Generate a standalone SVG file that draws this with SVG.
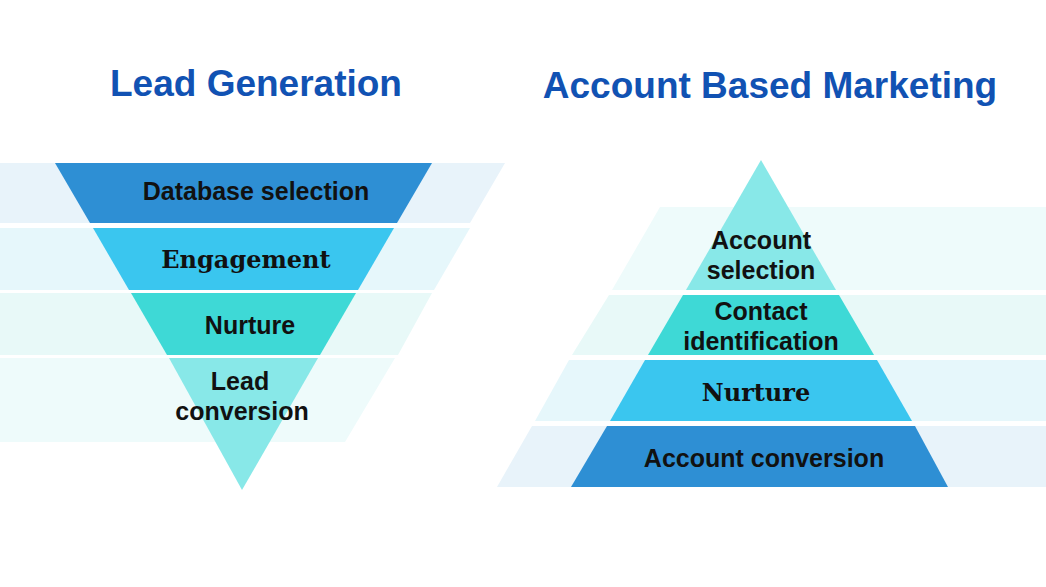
<svg xmlns="http://www.w3.org/2000/svg" width="1046" height="587" viewBox="0 0 1046 587">
<style>
.t{font-family:"Liberation Sans",Arial,sans-serif;font-weight:bold;fill:#1152b3;font-size:37px;text-anchor:middle}
.l{font-family:"Liberation Sans",Arial,sans-serif;font-weight:bold;fill:#111;font-size:25px;text-anchor:middle}
.s{font-family:"DejaVu Serif","Liberation Serif",serif;font-weight:bold;fill:#111;font-size:24px;text-anchor:middle}
</style>
<rect width="1046" height="587" fill="#fff"/>
<text class="t" x="256" y="96">Lead Generation</text>
<text class="t" x="770" y="98">Account Based Marketing</text>
<g id="lead-bg">
<polygon points="0,163 505,163 470,223 0,223" fill="#e8f3fa"/>
<polygon points="0,228 470,228 434,290 0,290" fill="#e6f7fb"/>
<polygon points="0,293 432,293 398,355 0,355" fill="#e8f9f8"/>
<polygon points="0,358 395,358 345,442 0,442" fill="#eefbfb"/>
</g>
<g id="lead-1"><polygon points="55,163 432,163 397,223 90,223" fill="#2e8fd4"/><text class="l" x="256" y="200">Database selection</text></g>
<g id="lead-2"><polygon points="93,228 394,228 358,290 129,290" fill="#3ac6ef"/><text class="s" x="246" y="268">Engagement</text></g>
<g id="lead-3"><polygon points="131,293 356,293 320,355 167,355" fill="#3ed9d6"/><text class="l" x="250" y="334">Nurture</text></g>
<g id="lead-4"><polygon points="169,358 318,358 242,490" fill="#88e8e8"/><text class="l" x="240" y="390">Lead</text><text class="l" x="242" y="420">conversion</text></g>
<g id="abm-bg">
<polygon points="660,207 1046,207 1046,290 612,290" fill="#eefbfb"/>
<polygon points="609,295 1046,295 1046,355 572,355" fill="#e8f9f8"/>
<polygon points="569,360 1046,360 1046,421 535,421" fill="#e6f7fb"/>
<polygon points="532,426 1046,426 1046,487 497,487" fill="#e8f3fa"/>
</g>
<g id="abm-1"><polygon points="761,160 836,290 686,290" fill="#88e8e8"/><text class="l" x="761" y="249">Account</text><text class="l" x="761" y="279">selection</text></g>
<g id="abm-2"><polygon points="683,295 839,295 874,355 648,355" fill="#3ed9d6"/><text class="l" x="761" y="320">Contact</text><text class="l" x="761" y="350">identification</text></g>
<g id="abm-3"><polygon points="645,360 877,360 912,421 610,421" fill="#3ac6ef"/><text class="s" x="756" y="401">Nurture</text></g>
<g id="abm-4"><polygon points="607,426 915,426 948,487 571,487" fill="#2e8fd4"/><text class="l" x="764" y="467">Account conversion</text></g>
<g id="connectors"/>
</svg>
